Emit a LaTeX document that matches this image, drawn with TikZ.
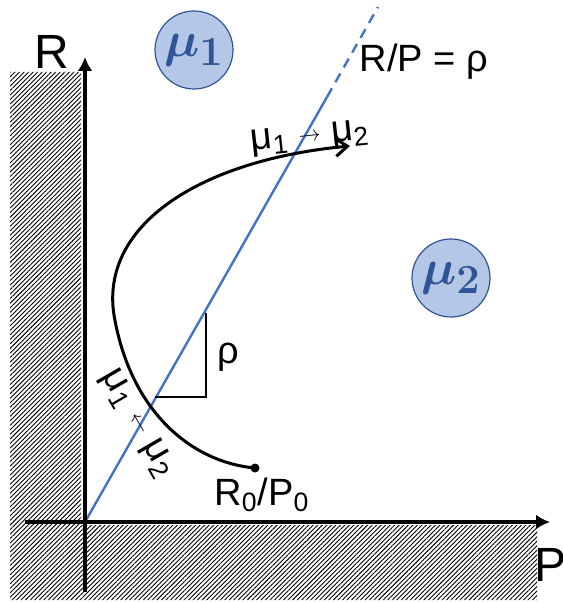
\documentclass[tikz,border=0pt]{standalone}
\usepackage{fontspec}
\setmainfont{Liberation Sans}
\usetikzlibrary{arrows.meta,positioning,patterns.meta}
\definecolor{acc}{HTML}{4472C4}
\definecolor{mufill}{HTML}{B4C7E7}
\definecolor{mudraw}{HTML}{2F5597}
\newcommand\smallarr[1]{\raisebox{1.5pt}{\fontsize{11}{11}\selectfont$#1$}}

\begin{document}
\begin{tikzpicture}[x=0.5pt,y=-0.5pt,
  hatch/.style={pattern={Lines[angle=45,distance=1.6pt,line width=0.45pt]},
                pattern color=black},
  axis/.style={line width=2pt,-{Latex[length=7pt,width=7.5pt]}},
  region/.style={circle,draw=mudraw,fill=mufill,line width=0.6pt,
                 minimum size=39pt,inner sep=0pt,text=mudraw,
                 font=\fontsize{30}{30}\selectfont\boldmath},
  lbl/.style={font=\fontsize{19}{20}\selectfont,inner sep=1pt},
  big/.style={font=\fontsize{24}{24}\selectfont,inner sep=1pt},
  ar/.style={-{Straight Barb[length=6pt,width=9pt]},line width=1.5pt}]
\useasboundingbox (0,0) rectangle (562,603);
\fill[hatch] (10,72) -- (81,72) -- (81,525) -- (537,525) -- (537,600)
  -- (10,600) -- cycle;
\coordinate (O) at (85,522);
\coordinate (xs) at (25,522); \coordinate (xe) at (550,522);
\coordinate (ys) at (85,592); \coordinate (ye) at (85,57);
\coordinate (dashStart) at (327,97); \coordinate (lineEnd) at (378,7);
\coordinate (tA) at (155,397); \coordinate (tB) at (206,397);
\coordinate (tC) at (206,313);
\coordinate (turn) at (114,315); \coordinate (tip) at (350,146);
\draw[acc,line width=1.2pt] (O) -- (dashStart);
\draw[acc,line width=1.2pt,dash pattern=on 5pt off 3.5pt] (dashStart) -- (lineEnd);
\draw[axis] (xs) -- (xe);
\draw[axis] (ys) -- (ye);
\draw[line width=0.8pt] (tA) -- (tB) -- (tC);
\node[region] (mu1) at (194,50) {$\mu_{\mathbf 1}$};
\node[region] (mu2) at (451,278) {$\mu_{\mathbf 2}$};
\node[big] (R) at (52,52) {R};
\node[big] (P) at (550,565) {P};
\node[lbl] (ratio) at (424,62) {R/P = ρ};
\node[lbl] (rho) at (228,357) {ρ};
\node[circle,fill,inner sep=0pt,minimum size=4.5pt] (p0) at (255,468) {};
\node[lbl] (start) at (262,495) {R\textsubscript{0}/P\textsubscript{0}};
\draw[ar] (p0.center) .. controls (190,462) and (130,410) .. (turn)
  .. controls (100,225) and (200,160) .. (tip);
\node[lbl,rotate=6] (fwd) at (310,138)
  {μ\textsubscript{1} \smallarr{\rightarrow} μ\textsubscript{2}};
\node[lbl,rotate=-60] (back) at (137,424)
  {μ\textsubscript{1} \smallarr{\leftarrow} μ\textsubscript{2}};
\end{tikzpicture}
\end{document}
